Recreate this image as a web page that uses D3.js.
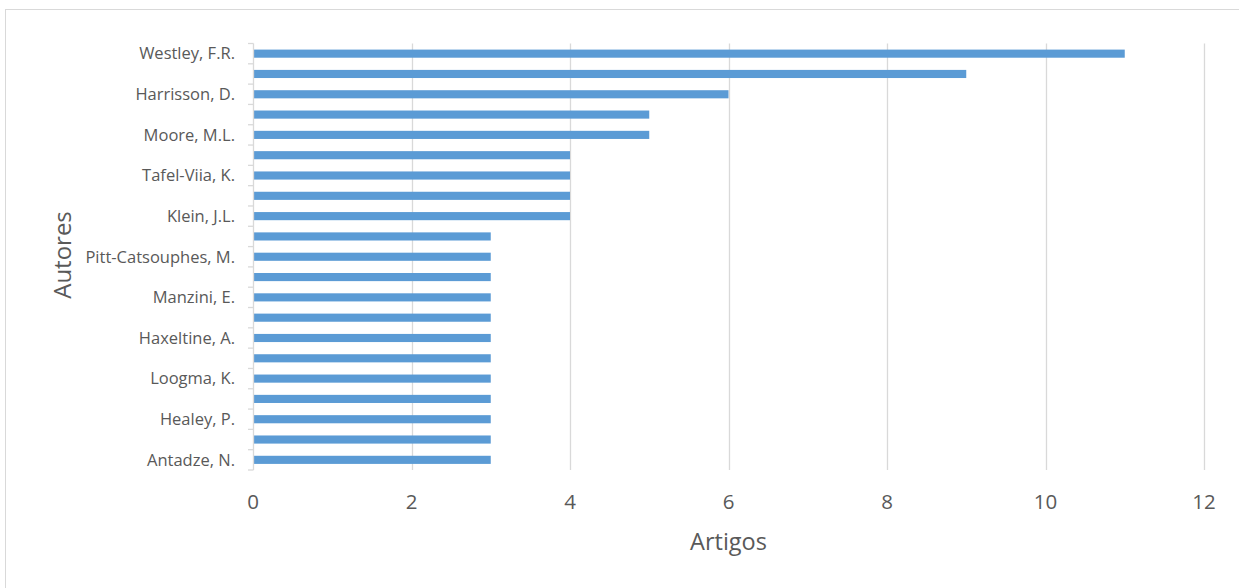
<!DOCTYPE html>
<html>
<head>
<meta charset="utf-8">
<script src="https://cdn.jsdelivr.net/npm/d3@7"></script>
<style>
  html, body { margin: 0; padding: 0; background: #fff; }
  svg { display: block; }
  text { font-family: "Open Sans", sans-serif; fill: #595959; }
</style>
</head>
<body>
<svg id="chart" width="1239" height="588"></svg>
<script>
// Data (top to bottom); empty labels are categories whose names Excel skipped
const categories = [
  "Westley, F.R.", "", "Harrisson, D.", "", "Moore, M.L.", "",
  "Tafel-Viia, K.", "", "Klein, J.L.", "", "Pitt-Catsouphes, M.", "",
  "Manzini, E.", "", "Haxeltine, A.", "", "Loogma, K.", "",
  "Healey, P.", "", "Antadze, N."
];
const values = [11, 9, 6, 5, 5, 4, 4, 4, 4, 3, 3, 3, 3, 3, 3, 3, 3, 3, 3, 3, 3];
const xTicks = [0, 2, 4, 6, 8, 10, 12];
const xTitle = "Artigos";
const yTitle = "Autores";

const svg = d3.select("#chart");
const W = 1239, H = 588;

// chart border
svg.append("rect")
  .attr("x", 5.5).attr("y", 9.5)
  .attr("width", W).attr("height", H)
  .attr("fill", "#fff").attr("stroke", "#d9d9d9").attr("stroke-width", 1);

const plot = { left: 253, right: 1204, top: 43.5, bottom: 470 };

const x = d3.scaleLinear().domain([0, 12]).range([plot.left, plot.right]);
const idx = d3.range(categories.length);
const y = d3.scaleBand().domain(idx).range([plot.top, plot.bottom]).paddingInner(0.6).paddingOuter(0.3);
const yb = d3.scaleBand().domain(idx).range([plot.top, plot.bottom]);

// gridlines
svg.append("g").selectAll("line").data(xTicks.filter(d => d > 0)).join("line")
  .attr("x1", d => Math.round(x(d)) + 0.5).attr("x2", d => Math.round(x(d)) + 0.5)
  .attr("y1", plot.top).attr("y2", plot.bottom)
  .attr("stroke", "#d9d9d9").attr("stroke-width", 1.3);

// bars
svg.append("g").selectAll("rect").data(values).join("rect")
  .attr("x", x(0) + 1)
  .attr("y", (d, i) => y(i))
  .attr("width", d => x(d) - x(0) - 1)
  .attr("height", y.bandwidth())
  .attr("fill", "#5b9bd5");

// y axis line + ticks at category boundaries
const yAxisG = svg.append("g");
yAxisG.append("line")
  .attr("x1", plot.left + 0.5).attr("x2", plot.left + 0.5)
  .attr("y1", plot.top).attr("y2", plot.bottom)
  .attr("stroke", "#d9d9d9").attr("stroke-width", 1.3);
const boundaries = idx.map(i => yb(i)).concat([plot.bottom]);
yAxisG.selectAll("line.tk").data(boundaries).join("line").attr("class", "tk")
  .attr("x1", plot.left - 5).attr("x2", plot.left + 0.5)
  .attr("y1", d => d).attr("y2", d => d)
  .attr("stroke", "#d9d9d9").attr("stroke-width", 1.3);

// category labels
svg.append("g").selectAll("text").data(categories).join("text")
  .attr("x", plot.left - 18)
  .attr("y", (d, i) => yb(i) + yb.bandwidth() / 2)
  .attr("dy", "0.35em")
  .attr("text-anchor", "end")
  .attr("font-size", 16.5)
  .text(d => d);

// x tick labels
svg.append("g").selectAll("text").data(xTicks).join("text")
  .attr("x", d => x(d))
  .attr("y", 509)
  .attr("text-anchor", "middle")
  .attr("font-size", 20.5)
  .text(d => d);

// axis titles
svg.append("text")
  .attr("x", (plot.left + plot.right) / 2).attr("y", 550)
  .attr("text-anchor", "middle").attr("font-size", 23.5)
  .text(xTitle);
svg.append("text")
  .attr("transform", `translate(71, 255) rotate(-90)`)
  .attr("text-anchor", "middle").attr("font-size", 24)
  .text(yTitle);
</script>
</body>
</html>
